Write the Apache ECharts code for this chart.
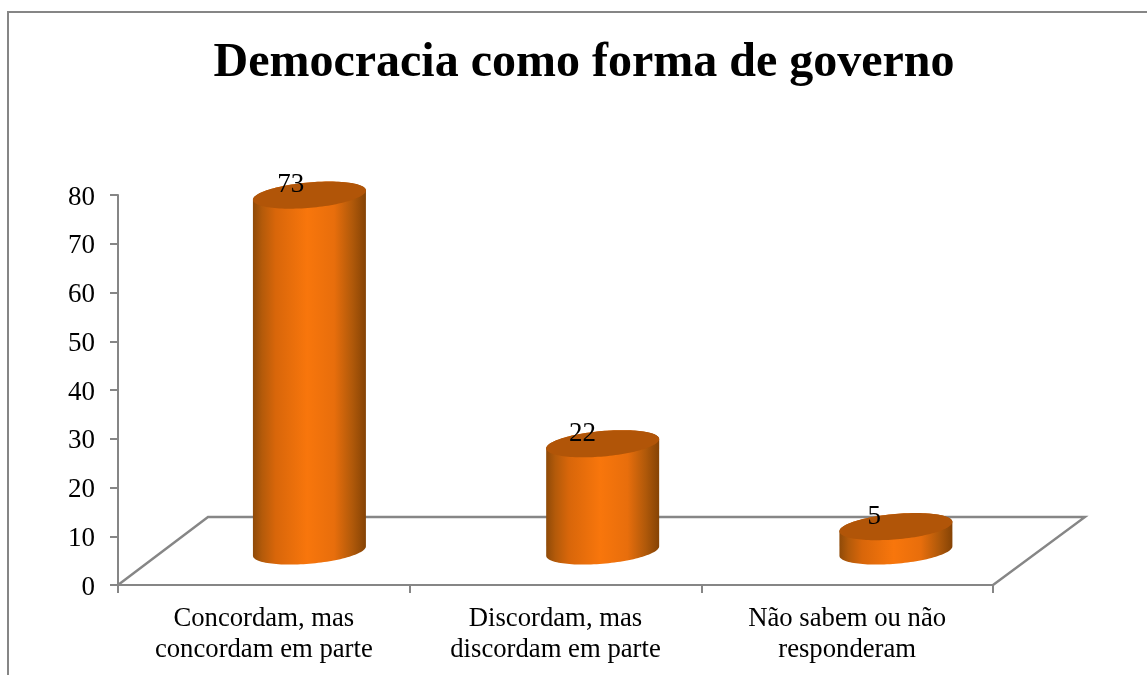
<!DOCTYPE html>
<html lang="pt">
<head>
<meta charset="utf-8">
<title>Democracia como forma de governo</title>
<style>
  html, body { margin: 0; padding: 0; background: #fff; }
  #chart { width: 1147px; height: 675px; }
</style>
<script src="https://cdn.jsdelivr.net/npm/echarts@6/dist/echarts.min.js"></script>
</head>
<body>
<div id="chart"></div>
<script>
const chartTitle = 'Democracia como forma de governo';
const categories = ['Concordam, mas\nconcordam em parte', 'Discordam, mas\ndiscordam em parte', 'Não sabem ou não\nresponderam'];
const values = [73, 22, 5];
const yTicks = { min: 0, max: 80, step: 10 };

const SERIF = '"Liberation Serif", "Times New Roman", serif';
const AXIS_GREY = '#868686';

// Oblique projection of the chart's depth axis
const DEPTH_X = 90;
const DEPTH_Y = -68;
const BACK_PLANE_SPREAD = 1.0054;

// Cylinder cross-section, drawn as a slightly rotated ellipse
const RADIUS_A = 56.7;
const RADIUS_B = 12.7;
const TILT = -5 * Math.PI / 180;

function ellipsePoint(cx, cy, t) {
  const ex = RADIUS_A * Math.cos(t);
  const ey = RADIUS_B * Math.sin(t);
  return [
    cx + ex * Math.cos(TILT) - ey * Math.sin(TILT),
    cy + ex * Math.sin(TILT) + ey * Math.cos(TILT)
  ];
}

function arc(cx, cy, from, to, steps) {
  const pts = [];
  for (let i = 0; i <= steps; i++) {
    pts.push(ellipsePoint(cx, cy, from + (to - from) * i / steps));
  }
  return pts;
}

// Parameter of the rightmost point of the ellipse; the leftmost is half a turn on
const T_RIGHT = Math.atan2(-RADIUS_B * Math.sin(TILT), RADIUS_A * Math.cos(TILT));

function renderFloor(params, api) {
  const cs = params.coordSys;
  const front = cs.y + cs.height;
  return {
    type: 'polyline',
    silent: true,
    shape: {
      points: [
        [cs.x, front],
        [cs.x + DEPTH_X, front + DEPTH_Y],
        [cs.x + cs.width + DEPTH_X + 2, front + DEPTH_Y],
        [cs.x + cs.width, front]
      ]
    },
    style: { stroke: AXIS_GREY, lineWidth: 2.4, fill: null }
  };
}

function renderCylinder(params, api) {
  const left = params.coordSys.x;
  const top = api.coord([api.value(0), api.value(1)]);
  const base = api.coord([api.value(0), 0]);
  const cx = left + (top[0] - left) * BACK_PLANE_SPREAD + 44.8;
  const topY = top[1] + DEPTH_Y / 2;
  const baseY = base[1] + DEPTH_Y / 2;

  const upperTop = arc(cx, topY, T_RIGHT + Math.PI, T_RIGHT + 2 * Math.PI, 60);
  const lowerBase = arc(cx, baseY, T_RIGHT, T_RIGHT + Math.PI, 60);
  const wall = upperTop.concat(lowerBase);
  const lid = arc(cx, topY, 0, 2 * Math.PI, 120);

  return {
    type: 'group',
    children: [
      {
        type: 'polygon',
        shape: { points: wall },
        style: {
          fill: new echarts.graphic.LinearGradient(0, 0, 1, 0, [
            { offset: 0, color: '#8f4a08' },
            { offset: 0.08, color: '#b35a0a' },
            { offset: 0.2, color: '#d8660a' },
            { offset: 0.48, color: '#f8760c' },
            { offset: 0.72, color: '#e86e0c' },
            { offset: 0.88, color: '#b0590a' },
            { offset: 1, color: '#854305' }
          ])
        }
      },
      {
        type: 'polygon',
        shape: { points: lid },
        style: { fill: '#b15508' }
      },
      {
        type: 'text',
        z2: 10,
        style: {
          text: String(api.value(1)),
          x: top[0] + 27,
          y: top[1] - 44,
          align: 'center',
          verticalAlign: 'middle',
          fontFamily: SERIF,
          fontSize: 27,
          fill: '#000'
        }
      }
    ]
  };
}

const chart = echarts.init(document.getElementById('chart'), null, { renderer: 'canvas' });

chart.setOption({
  animation: false,
  backgroundColor: '#fff',
  title: {
    text: chartTitle,
    left: 579,
    top: 35,
    textAlign: 'center',
    textStyle: { fontFamily: SERIF, fontWeight: 'bold', fontSize: 48, color: '#000' }
  },
  grid: { left: 118, top: 195, width: 875, height: 390, containLabel: false },
  xAxis: {
    type: 'category',
    data: categories,
    axisLine: { lineStyle: { color: AXIS_GREY, width: 2 } },
    axisTick: { show: true, alignWithLabel: false, length: 8, lineStyle: { color: AXIS_GREY, width: 2 } },
    axisLabel: { interval: 0, margin: 18, fontFamily: SERIF, fontSize: 26.7, lineHeight: 31.5, color: '#000' },
    splitLine: { show: false }
  },
  yAxis: {
    type: 'value',
    min: yTicks.min,
    max: yTicks.max,
    interval: yTicks.step,
    axisLine: { show: true, lineStyle: { color: AXIS_GREY, width: 2 } },
    axisTick: { show: true, length: 8, lineStyle: { color: AXIS_GREY, width: 2 } },
    axisLabel: {
      margin: 23,
      formatter: '{n|{value}}',
      rich: { n: { fontFamily: SERIF, fontSize: 27, color: '#000', padding: [5, 0, 0, 0] } }
    },
    splitLine: { show: false }
  },
  series: [
    {
      type: 'custom',
      name: 'Piso',
      silent: true,
      z: 1,
      renderItem: renderFloor,
      data: [[0, 0]],
      encode: { x: 0, y: 1 }
    },
    {
      type: 'custom',
      name: chartTitle,
      z: 5,
      renderItem: renderCylinder,
      data: values.map((v, i) => [i, v]),
      encode: { x: 0, y: 1 }
    }
  ],
  // Outer frame of the chart area, open at the right and bottom of the page
  graphic: [
    {
      type: 'polyline',
      silent: true,
      shape: { points: [[8, 675], [8, 12], [1147, 12]] },
      style: { stroke: AXIS_GREY, lineWidth: 2, fill: null }
    }
  ]
});
</script>
</body>
</html>
